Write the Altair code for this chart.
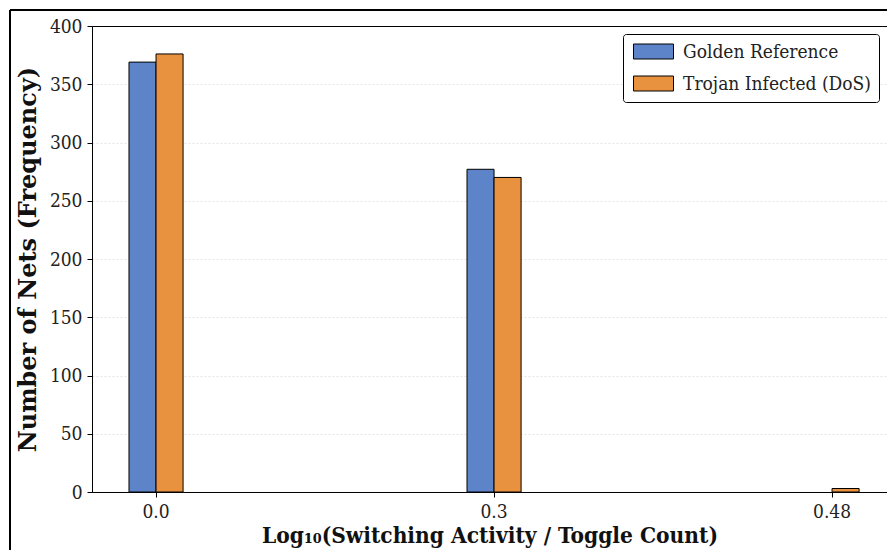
import altair as alt
import pandas as pd

categories = ["0.0", "0.3", "0.48"]
golden = [369, 277, 0]
trojan = [376, 270, 3]
series_names = ["Golden Reference", "Trojan Infected (DoS)"]
colors = ["#5D84C9", "#E8923F"]

rows = []
for c, g, t in zip(categories, golden, trojan):
    rows.append({"bin": c, "series": series_names[0], "count": g})
    rows.append({"bin": c, "series": series_names[1], "count": t})
df = pd.DataFrame(rows)

SERIF = "'DejaVu Serif Condensed', 'DejaVu Serif'"
W, H = 795, 466

bars = alt.Chart(df).transform_filter("datum.count > 0").mark_bar(
    stroke="black", strokeWidth=1).encode(
    x=alt.X("bin:N", sort=categories,
            scale=alt.Scale(domain=categories, paddingInner=0.84, paddingOuter=0.096, align=0.57),
            axis=alt.Axis(title="Log\u2081\u2080(Switching Activity / Toggle Count)", labelAngle=0,
                          grid=False, tickSize=5, tickColor="black", domainColor="black",
                          labelFont=SERIF, labelFontSize=19, labelColor="#222",
                          labelPadding=5, titleFont=SERIF, titleFontSize=22.5,
                          titleFontWeight="bold", titleColor="#111", titlePadding=3)),
    xOffset=alt.XOffset("series:N", sort=series_names,
                        scale=alt.Scale(domain=series_names, paddingInner=0, paddingOuter=0)),
    y=alt.Y("count:Q", scale=alt.Scale(domain=[0, 400]),
            axis=alt.Axis(title="Number of Nets (Frequency)", values=list(range(0, 401, 50)),
                          grid=True, gridColor="#dddddd", gridDash=[2, 2], gridWidth=0.8,
                          gridOpacity=alt.condition("datum.value >= 400", alt.value(0), alt.value(1)),
                          tickSize=5, tickColor="black", domainColor="black",
                          labelFont=SERIF, labelFontSize=19, labelColor="#222", labelPadding=5,
                          titleFont="DejaVu Serif", titleFontSize=24, titleFontWeight="bold",
                          titleColor="#111", titlePadding=9)),
    fill=alt.Fill("series:N", sort=series_names,
                  scale=alt.Scale(domain=series_names, range=colors),
                  legend=alt.Legend(title=None, orient="top-right", offset=8,
                                    fillColor="white", strokeColor="black",
                                    cornerRadius=3, padding=8, labelLimit=0,
                                    symbolType="M-2.667,-1L2.667,-1L2.667,1L-2.667,1Z",
                                    symbolSize=225, symbolOffset=13,
                                    symbolStrokeColor="black",
                                    symbolStrokeWidth=1, symbolOpacity=1,
                                    labelFont=SERIF, labelFontSize=19, labelColor="#222",
                                    labelOffset=20, rowPadding=12)),
)

frame_left = alt.Chart(df).mark_rule(color="black", strokeWidth=2).encode(
    x=alt.value(-82), y=alt.value(-16), y2=alt.value(H + 80))
frame_top = alt.Chart(df).mark_rule(color="black", strokeWidth=2).encode(
    x=alt.value(-82), x2=alt.value(W + 20), y=alt.value(-16))

chart = alt.layer(bars, frame_left, frame_top).properties(
    width=W, height=H,
    autosize=alt.AutoSizeParams(type="none"),
    padding={"left": 84, "top": 18, "right": 0, "bottom": 58},
).configure_view(stroke="black", strokeWidth=1)

chart.save("out.html", embed_options={"renderer": "svg", "actions": False})
